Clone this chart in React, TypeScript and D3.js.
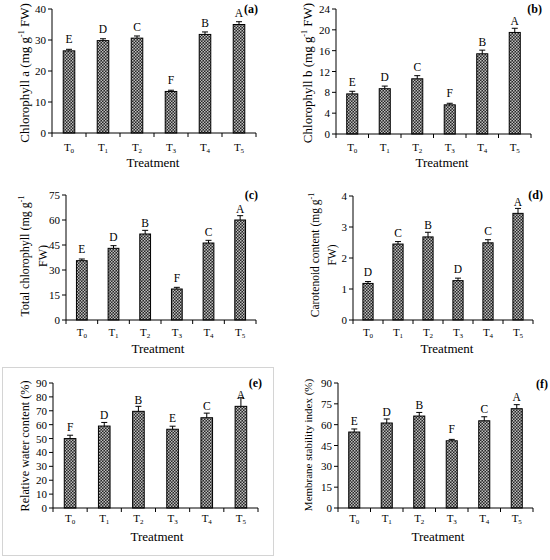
import { useEffect, useRef } from "react";
import * as d3 from "d3";

const treatments = ["0", "1", "2", "3", "4", "5"];

const chlA = [26.5, 29.8, 30.6, 13.4, 31.8, 35.0];
const chlAErr = [0.5, 0.6, 0.7, 0.4, 0.8, 0.9];
const chlALetters = ["E", "D", "C", "F", "B", "A"];
const chlATicks = [0, 10, 20, 30, 40];

const chlB = [7.7, 8.7, 10.6, 5.6, 15.4, 19.5];
const chlBErr = [0.5, 0.5, 0.6, 0.3, 0.7, 0.8];
const chlBLetters = ["E", "D", "C", "F", "B", "A"];
const chlBTicks = [0, 4, 8, 12, 16, 20, 24];

const totalChl = [35.6, 43.0, 51.6, 18.6, 46.2, 60.0];
const totalChlErr = [1.0, 1.6, 2.2, 1.0, 1.6, 2.6];
const totalChlLetters = ["E", "D", "B", "F", "C", "A"];
const totalChlTicks = [0, 15, 30, 45, 60, 75];

const carot = [1.18, 2.45, 2.68, 1.27, 2.49, 3.44];
const carotErr = [0.06, 0.08, 0.15, 0.08, 0.1, 0.16];
const carotLetters = ["D", "C", "B", "D", "C", "A"];
const carotTicks = [0, 1, 2, 3, 4];

const rwc = [50.0, 59.0, 69.6, 56.7, 65.0, 73.2];
const rwcErr = [2.4, 2.6, 3.6, 2.2, 3.3, 6.2];
const rwcLetters = ["F", "D", "B", "E", "C", "A"];
const rwcTicks = [0, 10, 20, 30, 40, 50, 60, 70, 80, 90];

const msi = [54.7, 61.2, 66.2, 48.4, 62.8, 71.5];
const msiErr = [2.2, 2.9, 2.6, 1.0, 2.9, 2.9];
const msiLetters = ["E", "D", "B", "F", "C", "A"];
const msiTicks = [0, 15, 30, 45, 60, 75, 90];

// layout of each panel on the 550x560 page
const panels = [
  { tag: "(a)", values: chlA, errs: chlAErr, letters: chlALetters, ticks: chlATicks,
    label: [["Chlorophyll a (mg g", "-1", " FW)"]], labelX: [25], labelY: 73, labelSize: 13,
    x0: 52, x1: 256, top: 9, bottom: 133, tickY: 151, treatX: 153, treatY: 167, tagX: 258, tagY: 13 },
  { tag: "(b)", values: chlB, errs: chlBErr, letters: chlBLetters, ticks: chlBTicks,
    label: [["Chlorophyll b (mg g", "-1", " FW)"]], labelX: [308], labelY: 73, labelSize: 13,
    x0: 336, x1: 531, top: 9, bottom: 134, tickY: 151, treatX: 442, treatY: 167, tagX: 542, tagY: 13 },
  { tag: "(c)", values: totalChl, errs: totalChlErr, letters: totalChlLetters, ticks: totalChlTicks,
    label: [["Total chlorophyll (mg g", "-1", ""], ["FW)", "", ""]], labelX: [25, 43], labelY: 256, labelSize: 12,
    x0: 66, x1: 256, top: 195, bottom: 320, tickY: 336, treatX: 158, treatY: 353, tagX: 258, tagY: 199 },
  { tag: "(d)", values: carot, errs: carotErr, letters: carotLetters, ticks: carotTicks,
    label: [["Carotenoid content (mg g", "-1", ""], ["FW)", "", ""]], labelX: [315, 332], labelY: 255, labelSize: 11.5,
    x0: 353, x1: 533, top: 196, bottom: 320, tickY: 336, treatX: 447, treatY: 353, tagX: 543, tagY: 199 },
  { tag: "(e)", values: rwc, errs: rwcErr, letters: rwcLetters, ticks: rwcTicks,
    label: [["Relative water content (%)", "", ""]], labelX: [25], labelY: 446, labelSize: 12.2,
    x0: 53, x1: 258, top: 383, bottom: 508, tickY: 522, treatX: 157, treatY: 541, tagX: 262, tagY: 387 },
  { tag: "(f)", values: msi, errs: msiErr, letters: msiLetters, ticks: msiTicks,
    label: [["Membrane stability index (%)", "", ""]], labelX: [308], labelY: 445, labelSize: 11,
    x0: 338, x1: 533, top: 383, bottom: 508, tickY: 522, treatX: 438, treatY: 541, tagX: 548, tagY: 388 },
];

const font = "Liberation Serif, Tinos, Times New Roman, serif";

export default function App() {
  const svgRef = useRef<SVGSVGElement>(null);

  useEffect(() => {
    if (!svgRef.current) return;
    const svg = d3.select(svgRef.current);
    svg.selectAll("*").remove();

    const pat = svg
      .append("defs")
      .append("pattern")
      .attr("id", "checks")
      .attr("width", 3)
      .attr("height", 3)
      .attr("patternUnits", "userSpaceOnUse");
    pat.append("rect").attr("width", 3).attr("height", 3).attr("fill", "#262626");
    pat.append("rect").attr("width", 1.5).attr("height", 1.5).attr("fill", "#bdbdbd");
    pat.append("rect").attr("x", 1.5).attr("y", 1.5).attr("width", 1.5).attr("height", 1.5).attr("fill", "#bdbdbd");

    // frame round panel (e)
    svg
      .append("rect")
      .attr("x", 2.5)
      .attr("y", 367.5)
      .attr("width", 271)
      .attr("height", 188)
      .attr("fill", "none")
      .attr("stroke", "#d4d4d4");

    panels.forEach((p) => {
      const g = svg.append("g").style("font-family", font).attr("fill", "#000");

      const x = d3.scaleBand().domain(treatments).range([p.x0, p.x1]);
      const y = d3
        .scaleLinear()
        .domain([0, p.ticks[p.ticks.length - 1]])
        .range([p.bottom, p.top]);
      const bw = x.bandwidth() * 0.34;

      // bars
      g.selectAll("rect.bar")
        .data(p.values)
        .join("rect")
        .attr("x", (_, i) => x(treatments[i])! + x.bandwidth() / 2 - bw / 2)
        .attr("y", (d) => y(d))
        .attr("width", bw)
        .attr("height", (d) => p.bottom - y(d))
        .attr("fill", "url(#checks)")
        .attr("stroke", "#000")
        .attr("stroke-width", 1);

      // letters sit a fixed gap above the bar; error bars drawn over them
      p.values.forEach((v, i) => {
        const cx = x(treatments[i])! + x.bandwidth() / 2;
        g.append("text")
          .attr("x", cx)
          .attr("y", y(v) - 7.5)
          .attr("text-anchor", "middle")
          .attr("font-size", 11.5)
          .text(p.letters[i]);
        const ty = y(v + p.errs[i]);
        g.append("line").attr("x1", cx).attr("x2", cx).attr("y1", y(v)).attr("y2", ty).attr("stroke", "#000");
        g.append("line").attr("x1", cx - 3).attr("x2", cx + 3).attr("y1", ty).attr("y2", ty).attr("stroke", "#000");
      });

      // y axis
      g.append("line").attr("x1", p.x0).attr("x2", p.x0).attr("y1", p.top).attr("y2", p.bottom).attr("stroke", "#000");
      p.ticks.forEach((t) => {
        g.append("line").attr("x1", p.x0 - 4).attr("x2", p.x0).attr("y1", y(t)).attr("y2", y(t)).attr("stroke", "#000");
        g.append("text")
          .attr("x", p.x0 - 6)
          .attr("y", y(t) + 4)
          .attr("text-anchor", "end")
          .attr("font-size", 11)
          .text(t);
      });

      // x axis
      g.append("line").attr("x1", p.x0).attr("x2", p.x1).attr("y1", p.bottom).attr("y2", p.bottom).attr("stroke", "#000");
      [...treatments.map((t) => x(t)!), p.x1].forEach((bx) => {
        g.append("line").attr("x1", bx).attr("x2", bx).attr("y1", p.bottom).attr("y2", p.bottom + 4).attr("stroke", "#000");
      });
      treatments.forEach((t) => {
        const txt = g
          .append("text")
          .attr("x", x(t)! + x.bandwidth() / 2)
          .attr("y", p.tickY)
          .attr("text-anchor", "middle")
          .attr("font-size", 11);
        txt.append("tspan").text("T");
        txt.append("tspan").attr("font-size", 7).attr("dy", 1.5).text(t);
      });

      g.append("text")
        .attr("x", p.treatX)
        .attr("y", p.treatY)
        .attr("text-anchor", "middle")
        .attr("font-size", 13)
        .text("Treatment");

      // y label, one or two lines
      p.label.forEach((parts, li) => {
        const txt = g
          .append("text")
          .attr("transform", `translate(${p.labelX[li] + 4},${p.labelY}) rotate(-90)`)
          .attr("text-anchor", "middle")
          .attr("font-size", p.labelSize);
        txt.append("tspan").text(parts[0]);
        if (parts[1]) txt.append("tspan").attr("font-size", 8).attr("dy", -5).text(parts[1]);
        if (parts[2]) txt.append("tspan").attr("dy", 5).text(parts[2]);
      });

      g.append("text")
        .attr("x", p.tagX)
        .attr("y", p.tagY)
        .attr("text-anchor", "end")
        .attr("font-size", 12)
        .attr("font-weight", "bold")
        .text(p.tag);
    });
  }, []);

  return (
    <svg
      ref={svgRef}
      width={550}
      height={560}
      style={{ position: "absolute", left: 0, top: 0, background: "#fff" }}
    />
  );
}
